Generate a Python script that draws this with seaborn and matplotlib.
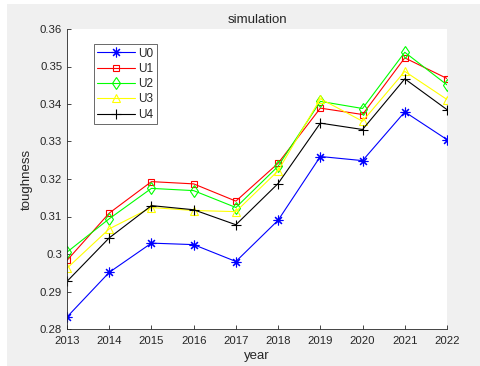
import matplotlib
matplotlib.use("Agg")
import matplotlib.pyplot as plt
import seaborn as sns
import pandas as pd
from matplotlib.patches import Rectangle

years = [2013, 2014, 2015, 2016, 2017, 2018, 2019, 2020, 2021, 2022]
u0 = [0.2832, 0.2951, 0.3029, 0.3025, 0.2980, 0.3090, 0.3260, 0.3249, 0.3379, 0.3305]
u1 = [0.2983, 0.3109, 0.3193, 0.3187, 0.3141, 0.3242, 0.3389, 0.3372, 0.3523, 0.3468]
u2 = [0.3005, 0.3094, 0.3175, 0.3169, 0.3124, 0.3234, 0.3407, 0.3388, 0.3538, 0.3451]
u3 = [0.2962, 0.3067, 0.3124, 0.3116, 0.3113, 0.3222, 0.3414, 0.3354, 0.3487, 0.3412]
u4 = [0.2927, 0.3043, 0.3129, 0.3118, 0.3078, 0.3188, 0.3349, 0.3332, 0.3467, 0.3385]
series_names = ["U0", "U1", "U2", "U3", "U4"]
yticks = [0.28, 0.29, 0.30, 0.31, 0.32, 0.33, 0.34, 0.35, 0.36]
ytick_labels = ["0.28", "0.29", "0.3", "0.31", "0.32", "0.33", "0.34", "0.35", "0.36"]

df = pd.DataFrame({"year": years, "U0": u0, "U1": u1, "U2": u2, "U3": u3, "U4": u4})
long = df.melt(id_vars="year", var_name="series", value_name="toughness")

sns.set_style("ticks")
plt.rcParams["font.family"] = ["Liberation Sans", "DejaVu Sans"]

fig = plt.figure(figsize=(4.81, 3.66), dpi=100)
fig.patch.set_facecolor("white")
# grey figure window area
bg = Rectangle((7 / 481, 0), 1 - 7 / 481, 1 - 4 / 366,
               transform=fig.transFigure, facecolor="#f0f0f0",
               edgecolor="none", zorder=-10)
fig.add_artist(bg)

ax = fig.add_axes([67 / 481, 1 - 329 / 366, 380 / 481, 300 / 366])
ax.set_facecolor("white")

# asterisk built from 4 crossing strokes
asterisk = (8, 2, 0)
styles = {
    "U0": dict(color=(0, 0, 1), marker=asterisk, ms=7, mfc=(0, 0, 1)),
    "U1": dict(color=(1, 0, 0), marker="s", ms=5, mfc="none"),
    "U2": dict(color=(0, 1, 0), marker="d", ms=6.5, mfc="none"),
    "U3": dict(color=(1, 1, 0), marker="^", ms=6, mfc="none"),
    "U4": dict(color=(0, 0, 0), marker="+", ms=7.5, mfc=(0, 0, 0)),
}
for name in series_names:
    st = styles[name]
    sub = long[long["series"] == name]
    sns.lineplot(data=sub, x="year", y="toughness", ax=ax, color=st["color"],
                 marker=st["marker"], markersize=st["ms"], markerfacecolor=st["mfc"],
                 markeredgecolor=st["color"], markeredgewidth=0.8, linewidth=0.8,
                 label=name)

ax.set_xlim(2013, 2022)
ax.set_ylim(0.28, 0.36)
ax.set_xticks(years)
ax.set_xticklabels([str(y) for y in years])
ax.set_yticks(yticks)
ax.set_yticklabels(ytick_labels)
ax.tick_params(direction="in", length=3, width=0.6, labelsize=8.2, colors="#262626")
ax.tick_params(axis="x", pad=5)
for s in ["top", "right"]:
    ax.spines[s].set_visible(False)
for s in ["left", "bottom"]:
    ax.spines[s].set_color("#262626")
    ax.spines[s].set_linewidth(0.6)

ax.set_xlabel("year", fontsize=9.5, color="#262626", labelpad=3)
ax.set_ylabel("toughness", fontsize=9.5, color="#262626", labelpad=5)
ax.set_title("simulation", fontsize=9.5, color="#262626", pad=4)

leg = ax.legend(loc="upper left", bbox_to_anchor=(0.07, 0.95), fontsize=8.5,
                frameon=True, fancybox=False, handlelength=3.2, handletextpad=0.3,
                labelspacing=0.28, borderpad=0.3, borderaxespad=0)
leg.get_frame().set_edgecolor("#262626")
leg.get_frame().set_linewidth(0.6)

fig.savefig("out.png", dpi=100)
